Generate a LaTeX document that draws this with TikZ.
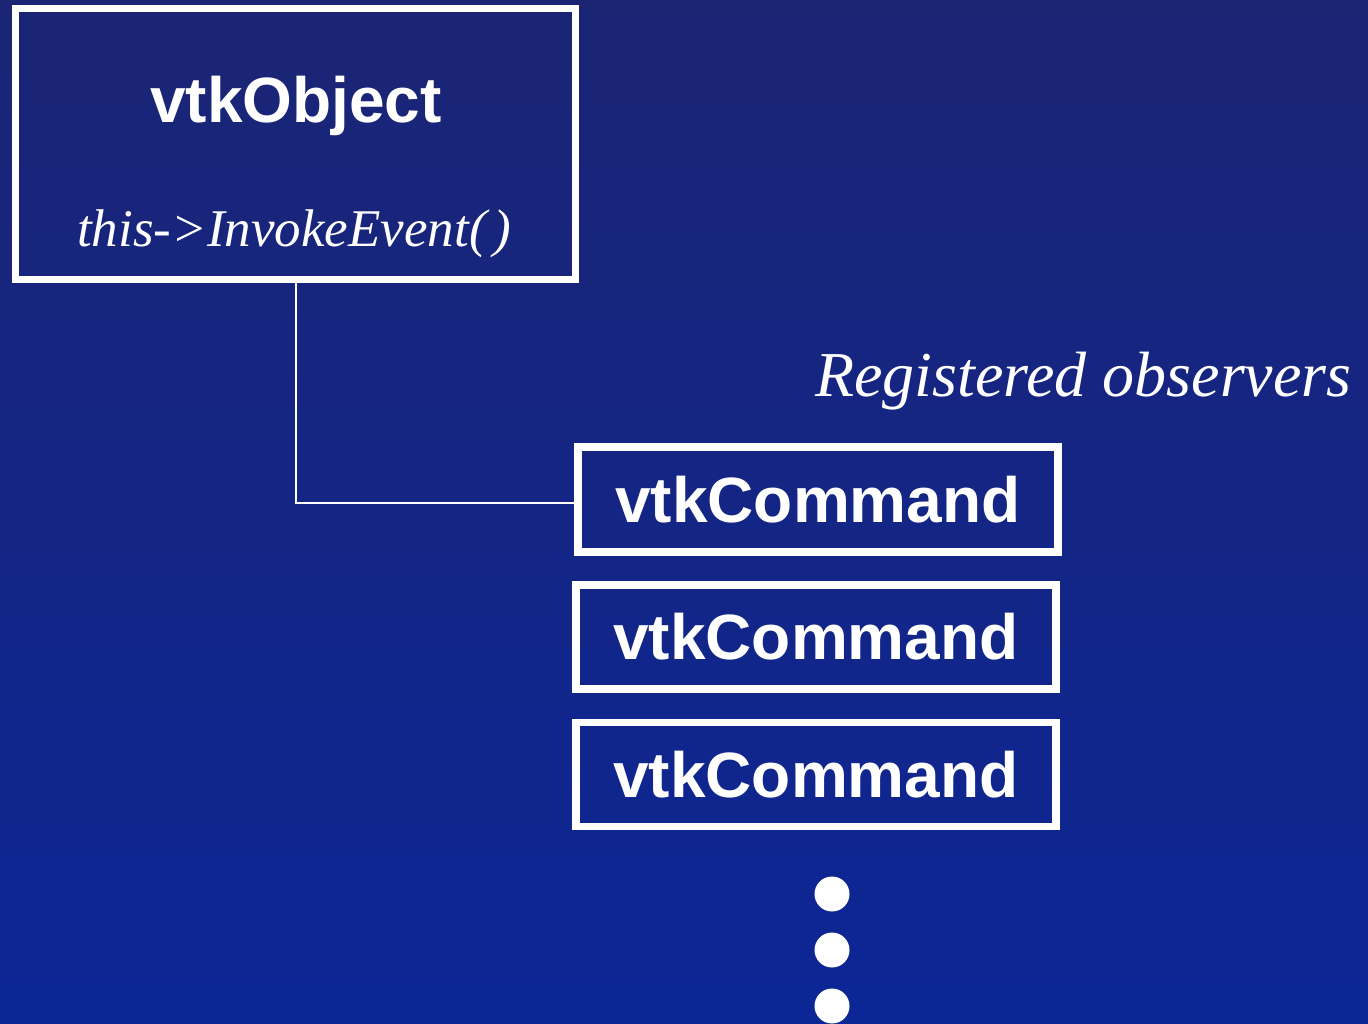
\documentclass[tikz,border=0pt]{standalone}
\usepackage{fontspec}
\setmainfont{Liberation Serif}
\newfontfamily\headfont{Liberation Sans}
\definecolor{bgtop}{RGB}{27,37,116}
\definecolor{bgbottom}{RGB}{12,38,150}
\begin{document}
\begin{tikzpicture}[x=0.5pt,y=-0.5pt,
  classbox/.style={draw=white, line width=3.75pt, rectangle, inner sep=0pt},
  cmdbox/.style={classbox, minimum width=240pt, minimum height=52.5pt,
    font=\headfont\bfseries\fontsize{32}{38}\selectfont, text=white},
  titletext/.style={font=\headfont\bfseries\fontsize{32}{38}\selectfont, text=white, anchor=base, inner sep=0pt},
  calltext/.style={font=\itshape\fontsize{26.5}{32}\selectfont, text=white, anchor=base, inner sep=0pt},
  notetext/.style={font=\itshape\fontsize{32}{38}\selectfont, text=white, anchor=base east, inner sep=0pt},
  link/.style={draw=white, line width=1pt},
  moredot/.style={fill=white}
]
  % background
  \shade[top color=bgtop, bottom color=bgbottom] (0,0) rectangle (1368,1023);
  \useasboundingbox (0,0) rectangle (1368,1023);

  % the observed object
  \node[classbox, minimum width=280pt, minimum height=135.5pt] (obj) at (295.5,144) {};
  \node[titletext] (objname) at (296,122) {vtkObject};
  \node[calltext] (objcall) at (294,246) {this->InvokeEvent(\kern0.12em)};

  % label over the observer list
  \node[notetext] (obslabel) at (1352,396) {Registered observers};

  % the observers
  \node[cmdbox] (cmd1) at (818,499.5) {vtkCommand};
  \node[cmdbox, minimum height=52pt] (cmd2) at (816,637) {vtkCommand};
  \node[cmdbox, minimum height=52pt] (cmd3) at (816,774.5) {vtkCommand};

  % connector from the object to the first observer
  \draw[link] (obj.south) |- ([yshift=-1.75pt]cmd1.west);

  % more observers follow
  \fill[moredot] (832,894) circle (17.5);
  \fill[moredot] (832,950) circle (17.5);
  \fill[moredot] (832,1006) circle (17.5);
\end{tikzpicture}
\end{document}
